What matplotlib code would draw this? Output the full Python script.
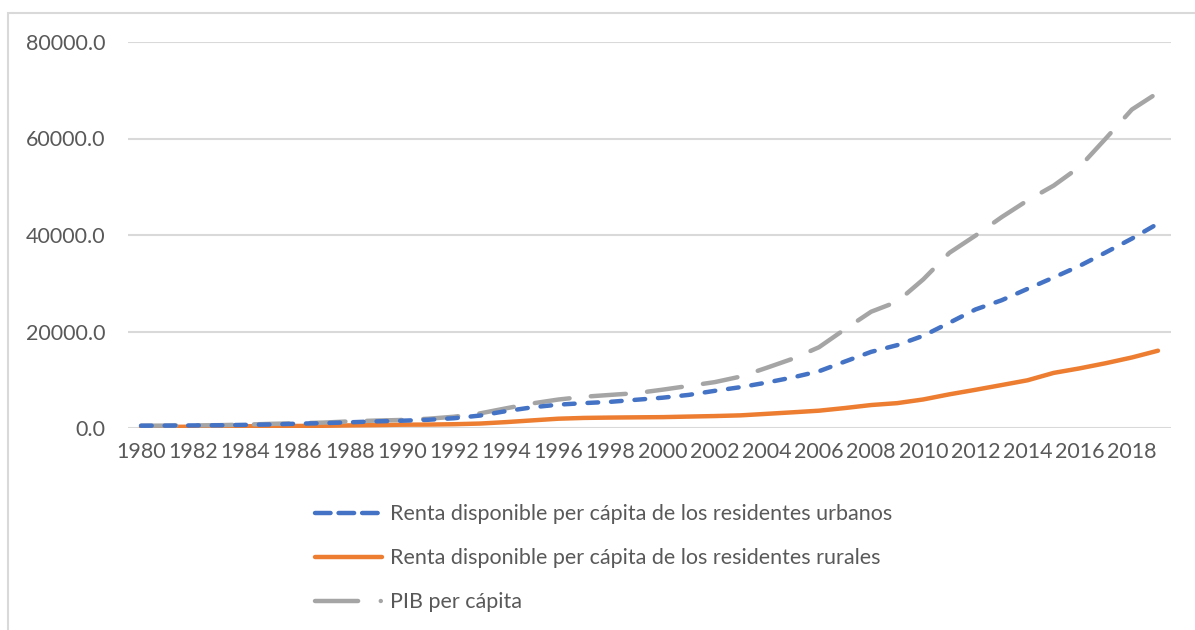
import matplotlib
matplotlib.use("Agg")
import matplotlib.pyplot as plt
from matplotlib.lines import Line2D
from matplotlib.patches import Rectangle

years = list(range(1980, 2020))
urbano = [477.6, 500.4, 535.3, 564.6, 652.1, 739.1, 900.9, 1002.1, 1180.2, 1373.9,
          1510.2, 1700.6, 2026.6, 2577.4, 3496.2, 4283.0, 4838.9, 5160.3, 5425.1, 5854.0,
          6280.0, 6859.6, 7702.8, 8472.2, 9421.6, 10493.0, 11759.5, 13785.8, 15780.8, 17174.7,
          19109.4, 21809.8, 24564.7, 26467.0, 28843.9, 31194.8, 33616.2, 36396.2, 39250.8, 42358.8]
rural = [191.3, 223.4, 270.1, 309.8, 355.3, 397.6, 423.8, 462.6, 544.9, 601.5,
         686.3, 708.6, 784.0, 921.6, 1221.0, 1577.7, 1926.1, 2090.1, 2162.0, 2210.3,
         2253.4, 2366.4, 2475.6, 2622.2, 2936.4, 3254.9, 3587.0, 4140.4, 4760.6, 5153.2,
         5919.0, 6977.3, 7916.6, 8895.9, 9892.0, 11421.7, 12363.4, 13432.4, 14617.0, 16020.7]
pib = [468, 497, 533, 588, 702, 866, 973, 1123, 1378, 1536,
       1663, 1912, 2334, 3027, 4081, 5091, 5898, 6481, 6860, 7229,
       7942, 8717, 9506, 10666, 12487, 14368, 16738, 20494, 24100, 26180,
       30808, 36302, 39874, 43684, 47173, 50237, 54139, 60014, 66006, 69500]
yticks = [0, 20000, 40000, 60000, 80000]
labels = ["Renta disponible per cápita de los residentes urbanos",
          "Renta disponible per cápita de los residentes rurales",
          "PIB per cápita"]

plt.rcParams['font.family'] = ['Lato', 'DejaVu Sans']
txt = '#595959'
c_blue, c_orange, c_gray = '#4472C4', '#ED7D31', '#A5A5A5'
fs = 15.5

fig = plt.figure(figsize=(11.95, 6.3), dpi=100)
fig.add_artist(Rectangle((8/1195, -0.1), 1.2, (630-13)/630 + 0.1, transform=fig.transFigure,
                         fill=False, edgecolor='#d9d9d9', lw=1.5))
ax = fig.add_axes([128/1195, (630-428)/630, (1171-128)/1195, 386/630])
x = list(range(len(years)))
lw = 3.2
ax.plot(x, pib, color=c_gray, lw=lw, dashes=(7.9, 4.8), dash_capstyle='round',
        solid_capstyle='round', zorder=3)
ax.plot(x, urbano, color=c_blue, lw=lw, dashes=(2.4, 2.9), dash_capstyle='round', zorder=4)
ax.plot(x, rural, color=c_orange, lw=lw, solid_capstyle='round', zorder=2)

ax.set_xlim(-0.5, len(years) - 0.5)
ax.set_ylim(0, 80000)
ax.set_yticks(yticks)
ax.set_yticklabels([f"{v:.1f}" for v in yticks])
ax.set_xticks(x[::2])
ax.set_xticklabels([str(y) for y in years[::2]])
ax.grid(axis='y', color='#d9d9d9', lw=1.5)
ax.set_axisbelow(True)
for s in ax.spines.values():
    s.set_visible(False)
ax.tick_params(axis='both', length=0, labelcolor=txt, labelsize=fs)
ax.tick_params(axis='y', pad=16.5)
ax.tick_params(axis='x', pad=10)

handles = [Line2D([], [], color=c_blue, lw=lw, dashes=(3.5, 1.8), dash_capstyle='round'),
           Line2D([], [], color=c_orange, lw=lw, solid_capstyle='round'),
           Line2D([], [], color=c_gray, lw=lw, dashes=(9.7, 5.1, 0.01, 10), dash_capstyle='round')]
leg = fig.legend(handles, labels, loc='upper left', bbox_to_anchor=(296/1195, 1 - 485/630),
                 frameon=False, fontsize=fs, labelcolor=txt, handlelength=3.1,
                 handletextpad=0.37, labelspacing=1.11)
fig.savefig('out.png', dpi=100)
